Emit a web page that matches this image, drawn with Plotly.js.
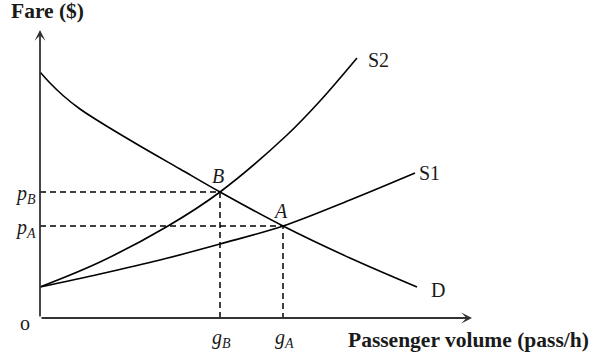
<!DOCTYPE html>
<html>
<head>
<meta charset="utf-8">
<script src="https://cdn.plot.ly/plotly-3.0.1.min.js"></script>
<style>html,body{margin:0;padding:0;background:#fff;}#chart{width:598px;height:357px;}</style>
</head>
<body>
<div id="chart"></div>
<script>
// Passenger volume (arbitrary units) and fare (arbitrary units)
var volD  = [0, 10, 23, 40, 60, 100, 140, 180, 243, 310, 377];
var fareD = [246, 235, 222.5, 209, 196, 172, 149, 126, 92, 60, 31];

var volS1  = [0, 60, 120, 180, 243, 310, 375];
var fareS1 = [31, 44, 58, 74, 92, 118, 145];

var volS2  = [0, 60, 128, 180, 247, 280, 317];
var fareS2 = [31, 56, 92, 126, 183, 217, 260];

// Equilibria
var eqNames = ["B", "A"];
var eqVol   = [180, 243];
var eqFare  = [126, 92];
var eqVolLabels  = ["<i>g<sub>B</sub></i>", "<i>g<sub>A</sub></i>"];
var eqFareLabels = ["<i>p<sub>B</sub></i>", "<i>p<sub>A</sub></i>"];

var axisMaxVol = 432, axisMaxFare = 288;

var serif = "Liberation Serif, Times New Roman, serif";
var txtCol = "#1a1a1a";

var traces = [];
function curve(x, y) {
  return {x: x, y: y, mode: "lines", type: "scatter",
    line: {color: "#000", width: 1.6, shape: "spline", smoothing: 1},
    hoverinfo: "skip", showlegend: false};
}
traces.push(curve(volD, fareD));
traces.push(curve(volS1, fareS1));
traces.push(curve(volS2, fareS2));
for (var i = 0; i < eqVol.length; i++) {
  traces.push({x: [0, eqVol[i], eqVol[i]], y: [eqFare[i], eqFare[i], 0],
    mode: "lines", type: "scatter",
    line: {color: "#000", width: 1.5, dash: "6px,4px"},
    hoverinfo: "skip", showlegend: false});
}

var ann = [];
// axes with arrows
ann.push({x: axisMaxVol, y: 0, ax: 0, ay: 0, axref: "x", ayref: "y", xref: "x", yref: "y",
  text: "", showarrow: true, arrowhead: 3, arrowsize: 1, arrowwidth: 1.8, arrowcolor: "#333"});
ann.push({x: 0, y: axisMaxFare, ax: 0, ay: 0, axref: "x", ayref: "y", xref: "x", yref: "y",
  text: "", showarrow: true, arrowhead: 3, arrowsize: 1, arrowwidth: 1.8, arrowcolor: "#333"});

function lab(text, x, y, opts) {
  var a = {x: x, y: y, xref: "x", yref: "y", text: text, showarrow: false,
    font: {family: serif, size: 20, color: txtCol}, xanchor: "center", yanchor: "middle"};
  for (var k in opts) a[k] = opts[k];
  return a;
}
var boldFont = {family: serif, size: 21.5, color: txtCol};
ann.push(lab("<b>Fare ($)</b>", -31, 307, {xanchor: "left", font: boldFont}));
ann.push(lab("<b>Passenger volume (pass/h)</b>", 551, -22, {xanchor: "right", font: boldFont}));
ann.push(lab("o", -15, -5));
ann.push(lab("S2", 338, 258));
ann.push(lab("S1", 389, 145));
ann.push(lab("D", 398, 28));
for (var j = 0; j < eqVol.length; j++) {
  ann.push(lab("<i>" + eqNames[j] + "</i>", eqVol[j] - 2.5, eqFare[j] + (j === 0 ? 16 : 15)));
  ann.push(lab(eqVolLabels[j], eqVol[j] + 1, -20));
  ann.push(lab(eqFareLabels[j], -2, eqFare[j] - 2, {xanchor: "right"}));
}

var layout = {
  width: 598, height: 357,
  margin: {l: 0, r: 0, t: 0, b: 0},
  paper_bgcolor: "#fff", plot_bgcolor: "#fff",
  xaxis: {range: [-40, 558], visible: false, fixedrange: true},
  yaxis: {range: [-39, 318], visible: false, fixedrange: true},
  annotations: ann,
  showlegend: false
};
Plotly.newPlot("chart", traces, layout, {staticPlot: true, displayModeBar: false});
</script>
</body>
</html>
